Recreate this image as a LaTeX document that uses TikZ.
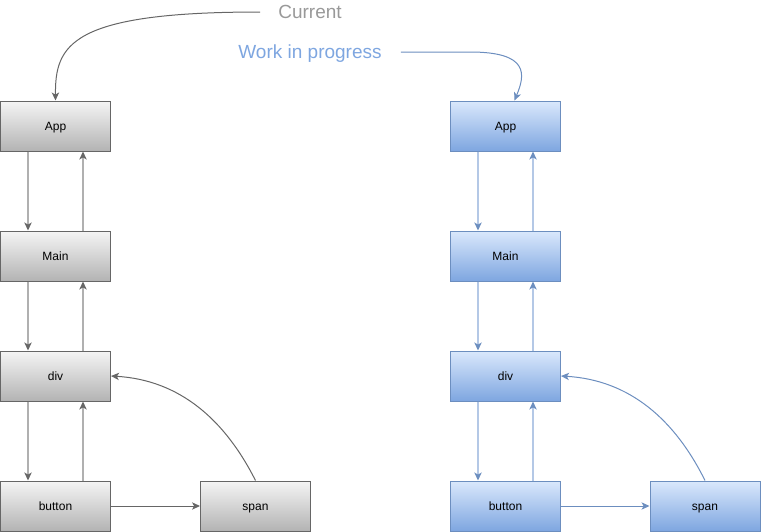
\documentclass[tikz,border=0pt]{standalone}
\usepackage{fontspec}
\setmainfont{Liberation Sans}
\usetikzlibrary{arrows.meta,calc}
\definecolor{gstroke}{HTML}{666666}
\definecolor{gtop}{HTML}{F5F5F5}
\definecolor{gbot}{HTML}{B3B3B3}
\definecolor{gline}{HTML}{B0B0B0}
\definecolor{bstroke}{HTML}{6C8EBF}
\definecolor{btop}{HTML}{DAE8FC}
\definecolor{bbot}{HTML}{7EA6E0}
\definecolor{bline}{HTML}{B4C8E6}
\definecolor{curtxt}{HTML}{999999}
\definecolor{wiptxt}{HTML}{7EA6E0}
\tikzset{
  box/.style={rectangle, minimum width=82.5pt, minimum height=37.5pt, inner sep=0pt, line width=0.75pt, text height=6.5pt, text depth=0pt, font=\fontsize{9pt}{11pt}\selectfont},
  graybox/.style={box, draw=gstroke, top color=gtop, bottom color=gbot},
  bluebox/.style={box, draw=bstroke, top color=btop, bottom color=bbot},
  tip/.style={-{Stealth[length=6pt,width=5.5pt,inset=1.6pt,color=#1]}},
  gvert/.style={tip=gstroke, draw=gline, line width=1.2pt},
  bvert/.style={tip=bstroke, draw=bline, line width=1.2pt},
  garr/.style={tip=gstroke, draw=gstroke, line width=0.75pt},
  barr/.style={tip=bstroke, draw=bstroke, line width=0.75pt},
  title/.style={font=\fontsize{14.25pt}{17pt}\selectfont, inner sep=0pt, text height=10pt, text depth=0pt}
}
\begin{document}
\begin{tikzpicture}[x=0.75pt,y=-0.75pt]
\useasboundingbox (0,0) rectangle (761,532);
% left column
\node[graybox] (A1) at (55.5,126) {App};
\node[graybox] (M1) at (55.5,256) {Main};
\node[graybox] (D1) at (55.5,376) {div};
\node[graybox] (B1) at (55.5,506) {button};
\node[graybox] (S1) at (255.5,506) {span};
% right column
\node[bluebox] (A2) at (505.5,126) {App};
\node[bluebox] (M2) at (505.5,256) {Main};
\node[bluebox] (D2) at (505.5,376) {div};
\node[bluebox] (B2) at (505.5,506) {button};
\node[bluebox] (S2) at (705,506) {span};
% titles
\node[title, text=curtxt] (cur) at (310,12) {Current};
\node[title, text=wiptxt] (wip) at (310,52) {Work in progress};
% left vertical arrows
\foreach \a/\b in {A1/M1, M1/D1, D1/B1}{
  \draw[gvert] ($(\a.south)+(-27.5,0)$) -- ($(\b.north)+(-27.5,0)$);
  \draw[gvert] ($(\b.north)+(27.5,0)$) -- ($(\a.south)+(27.5,0)$);
}
\foreach \a/\b in {A2/M2, M2/D2, D2/B2}{
  \draw[bvert] ($(\a.south)+(-27.5,0)$) -- ($(\b.north)+(-27.5,0)$);
  \draw[bvert] ($(\b.north)+(27.5,0)$) -- ($(\a.south)+(27.5,0)$);
}
% horizontal
\draw[garr] (B1.east) -- (S1.west);
\draw[barr] (B2.east) -- (S2.west);
% curves span -> div
\draw[garr] (S1.north) .. controls (225,420) and (180,380) .. (D1.east);
\draw[barr] (S2.north) .. controls (675,420) and (630,380) .. (D2.east);
% title arrows
\draw[garr] ($(cur.west)+(-18,0)$) .. controls (70,12) and (55,45) .. (A1.north);
\draw[barr] ($(wip.east)+(19,0)$) -- (470,52) .. controls (530,52) and (525,75) .. ($(A2.north)+(9,0)$);
\end{tikzpicture}
\end{document}
